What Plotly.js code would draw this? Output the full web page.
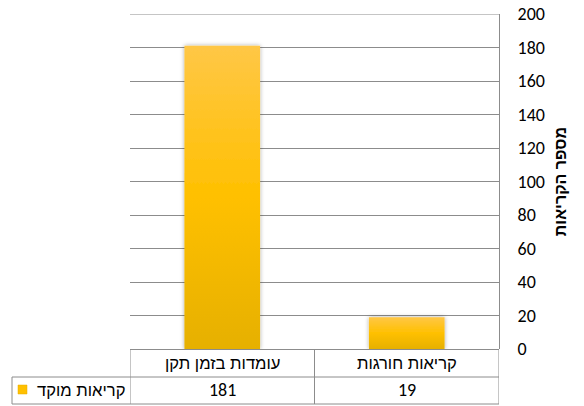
<!DOCTYPE html>
<html><head><meta charset="utf-8">
<script src="https://cdn.plot.ly/plotly-3.0.1.min.js"></script>
<style>html,body{margin:0;padding:0;background:#fff}#c{width:584px;height:406px}</style>
</head><body><div id="c"></div>
<script>
// Data
const categories = ["עומדות בזמן תקן", "קריאות חורגות"];
const values = [181, 19];
const seriesName = "קריאות מוקד";
const yTitle = "מספר הקריאות";
const yTicks = [0,20,40,60,80,100,120,140,160,180,200];

const W=584,H=406, L=130, R=499, T=14, B=349;
const NUMFONT = "Carlito, 'Liberation Sans', sans-serif";
const HEBFONT = "'Liberation Sans', 'DejaVu Sans', sans-serif";
const GRID = "#8c8c8c";
const py = p => (B - p)/(B - T);   // pixel y -> paper y
const pxp = p => (p - L)/(R - L);  // pixel x -> paper x

const rowTop = 349.5, rowMid = 377, rowBot = 404;

const shapes = [];
const line = (xref,x0,x1,yref,y0,y1)=>shapes.push({type:'line',xref:xref,yref:yref,x0:x0,x1:x1,y0:y0,y1:y1,line:{color:GRID,width:1},layer:'above'});
// top gridline
line('paper', 0, 1, 'y', 200, 200);
// horizontal table lines
line('paper', 0, 1, 'paper', py(rowTop), py(rowTop));
line('paper', pxp(12), 1, 'paper', py(rowMid), py(rowMid));
line('paper', pxp(12), 1, 'paper', py(rowBot), py(rowBot));
// vertical table lines (category boundaries on x scale)
[-0.5, 0.5, 1.5].forEach(v=>line('x', v, v, 'paper', py(rowTop), py(rowBot)));
line('paper', pxp(12), pxp(12), 'paper', py(rowMid), py(rowBot));
// legend key
shapes.push({type:'rect',xref:'paper',yref:'paper',x0:pxp(18),x1:pxp(27),y0:py(394),y1:py(385),fillcolor:'#FFC000',line:{color:'#E6AC00',width:0.5}});

const annotations = [];
categories.forEach((c,i)=>{
  annotations.push({xref:'x',yref:'paper',x:i,y:py((rowTop+rowMid)/2),text:c,showarrow:false,font:{family:HEBFONT,size:16.6,color:'#000'},xanchor:'center',yanchor:'middle'});
  annotations.push({xref:'x',yref:'paper',x:i,y:py((rowMid+rowBot)/2),text:String(values[i]),showarrow:false,font:{family:NUMFONT,size:18,color:'#000'},xanchor:'center',yanchor:'middle'});
});
annotations.push({xref:'paper',yref:'paper',x:pxp(127),y:py((rowMid+rowBot)/2),text:seriesName,showarrow:false,font:{family:HEBFONT,size:16.6,color:'#000'},xanchor:'right',yanchor:'middle'});

const trace = {type:'bar',x:categories,y:values,width:0.41,name:seriesName,
  marker:{color:'#FFC000',line:{width:0}},hoverinfo:'none',showlegend:false};

const layout = {
  width:W,height:H,margin:{l:L,r:W-R,t:T,b:H-B},
  paper_bgcolor:'#fff',plot_bgcolor:'#fff',
  showlegend:false,
  font:{family:NUMFONT,size:18,color:'#000'},
  xaxis:{type:'category',range:[-0.5,1.5],showticklabels:false,showgrid:false,zeroline:false,showline:false,ticks:''},
  yaxis:{side:'right',range:[0,200],tickvals:yTicks,ticktext:yTicks.map(String),showgrid:true,gridcolor:GRID,gridwidth:1,
    zeroline:false,showline:true,linecolor:GRID,linewidth:1,ticks:'',ticklabelstandoff:14,
    tickfont:{family:NUMFONT,size:18,color:'#000'},
    title:{text:yTitle,font:{family:HEBFONT,size:16,color:'#000',weight:'bold'},standoff:10}},
  shapes:shapes, annotations:annotations
};

Plotly.newPlot('c',[trace],layout,{displayModeBar:false,staticPlot:true}).then(gd=>{
  const svg = gd.querySelector('.main-svg');
  let defs = svg.querySelector('defs');
  const NS='http://www.w3.org/2000/svg';
  const g = document.createElementNS(NS,'linearGradient');
  g.setAttribute('id','barGrad');g.setAttribute('x1','0');g.setAttribute('y1','0');g.setAttribute('x2','0');g.setAttribute('y2','1');
  [['0%','#FFC746'],['50%','#FFC000'],['100%','#E6B000']].forEach(s=>{
    const st=document.createElementNS(NS,'stop');st.setAttribute('offset',s[0]);st.setAttribute('stop-color',s[1]);g.appendChild(st);
  });
  defs.appendChild(g);
  const f = document.createElementNS(NS,'filter');
  f.setAttribute('id','barShadow');f.setAttribute('x','-20%');f.setAttribute('y','-20%');f.setAttribute('width','140%');f.setAttribute('height','140%');
  const ds=document.createElementNS(NS,'feDropShadow');
  ds.setAttribute('dx','0');ds.setAttribute('dy','0');ds.setAttribute('stdDeviation','2');ds.setAttribute('flood-color','#000');ds.setAttribute('flood-opacity','0.35');
  f.appendChild(ds);defs.appendChild(f);
  gd.querySelectorAll('.trace.bars .point path').forEach(p=>{
    p.style.fill='url(#barGrad)';p.setAttribute('filter','url(#barShadow)');
  });
});
</script>
</body></html>
